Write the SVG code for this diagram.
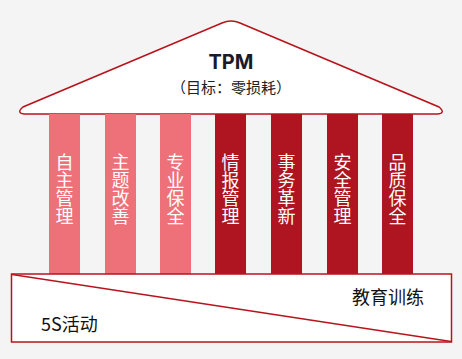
<svg xmlns="http://www.w3.org/2000/svg" width="462" height="359" viewBox="0 0 462 359">
<style>
.lt{fill:#ee717a}
.dk{fill:#ae1520}
.ct{font-family:"Noto Sans CJK SC","Noto Sans",sans-serif;font-size:18px;fill:#ffffff;text-anchor:middle;writing-mode:vertical-rl}
.bt{font-family:"Noto Sans CJK SC","Noto Sans",sans-serif;font-size:18px;fill:#111111}
.ln{fill:#ffffff;stroke:#b8141c;stroke-width:1.5}
</style>
<rect width="462" height="359" fill="#f4f4f4"/>
<g id="roof">
<path class="ln" d="M222,23 Q231,19 240,23 L439,107 Q446,113 438,114 L24,114 Q16,113 23,107 Z"/>
<text x="231" y="69" text-anchor="middle" font-family="Inter,'Noto Sans',sans-serif" font-weight="bold" font-size="20" fill="#1a1a28">TPM</text>
<text x="231" y="93" text-anchor="middle" font-family="'Noto Sans CJK SC',sans-serif" font-size="15" fill="#222222">（目标：零损耗）</text>
</g>
<g id="col1"><rect class="lt" x="49" y="114" width="31" height="160"/><text class="ct" x="64.5" y="189">自主管理</text></g>
<g id="col2"><rect class="lt" x="105" y="114" width="31" height="160"/><text class="ct" x="120.5" y="189">主题改善</text></g>
<g id="col3"><rect class="lt" x="160" y="114" width="31" height="160"/><text class="ct" x="175.5" y="189">专业保全</text></g>
<g id="col4"><rect class="dk" x="215" y="114" width="31" height="160"/><text class="ct" x="230.5" y="189">情报管理</text></g>
<g id="col5"><rect class="dk" x="271" y="114" width="31" height="160"/><text class="ct" x="286.5" y="189">事务革新</text></g>
<g id="col6"><rect class="dk" x="327" y="114" width="31" height="160"/><text class="ct" x="342.5" y="189">安全管理</text></g>
<g id="col7"><rect class="dk" x="382" y="114" width="31" height="160"/><text class="ct" x="397.5" y="189">品质保全</text></g>
<g id="base">
<rect class="ln" x="11.5" y="274" width="440" height="68"/>
<line x1="12" y1="274.5" x2="451" y2="341.5" stroke="#b8141c" stroke-width="1.5"/>
<text class="bt" x="352" y="304">教育训练</text>
<text class="bt" x="41" y="331">5S活动</text>
</g>
</svg>
